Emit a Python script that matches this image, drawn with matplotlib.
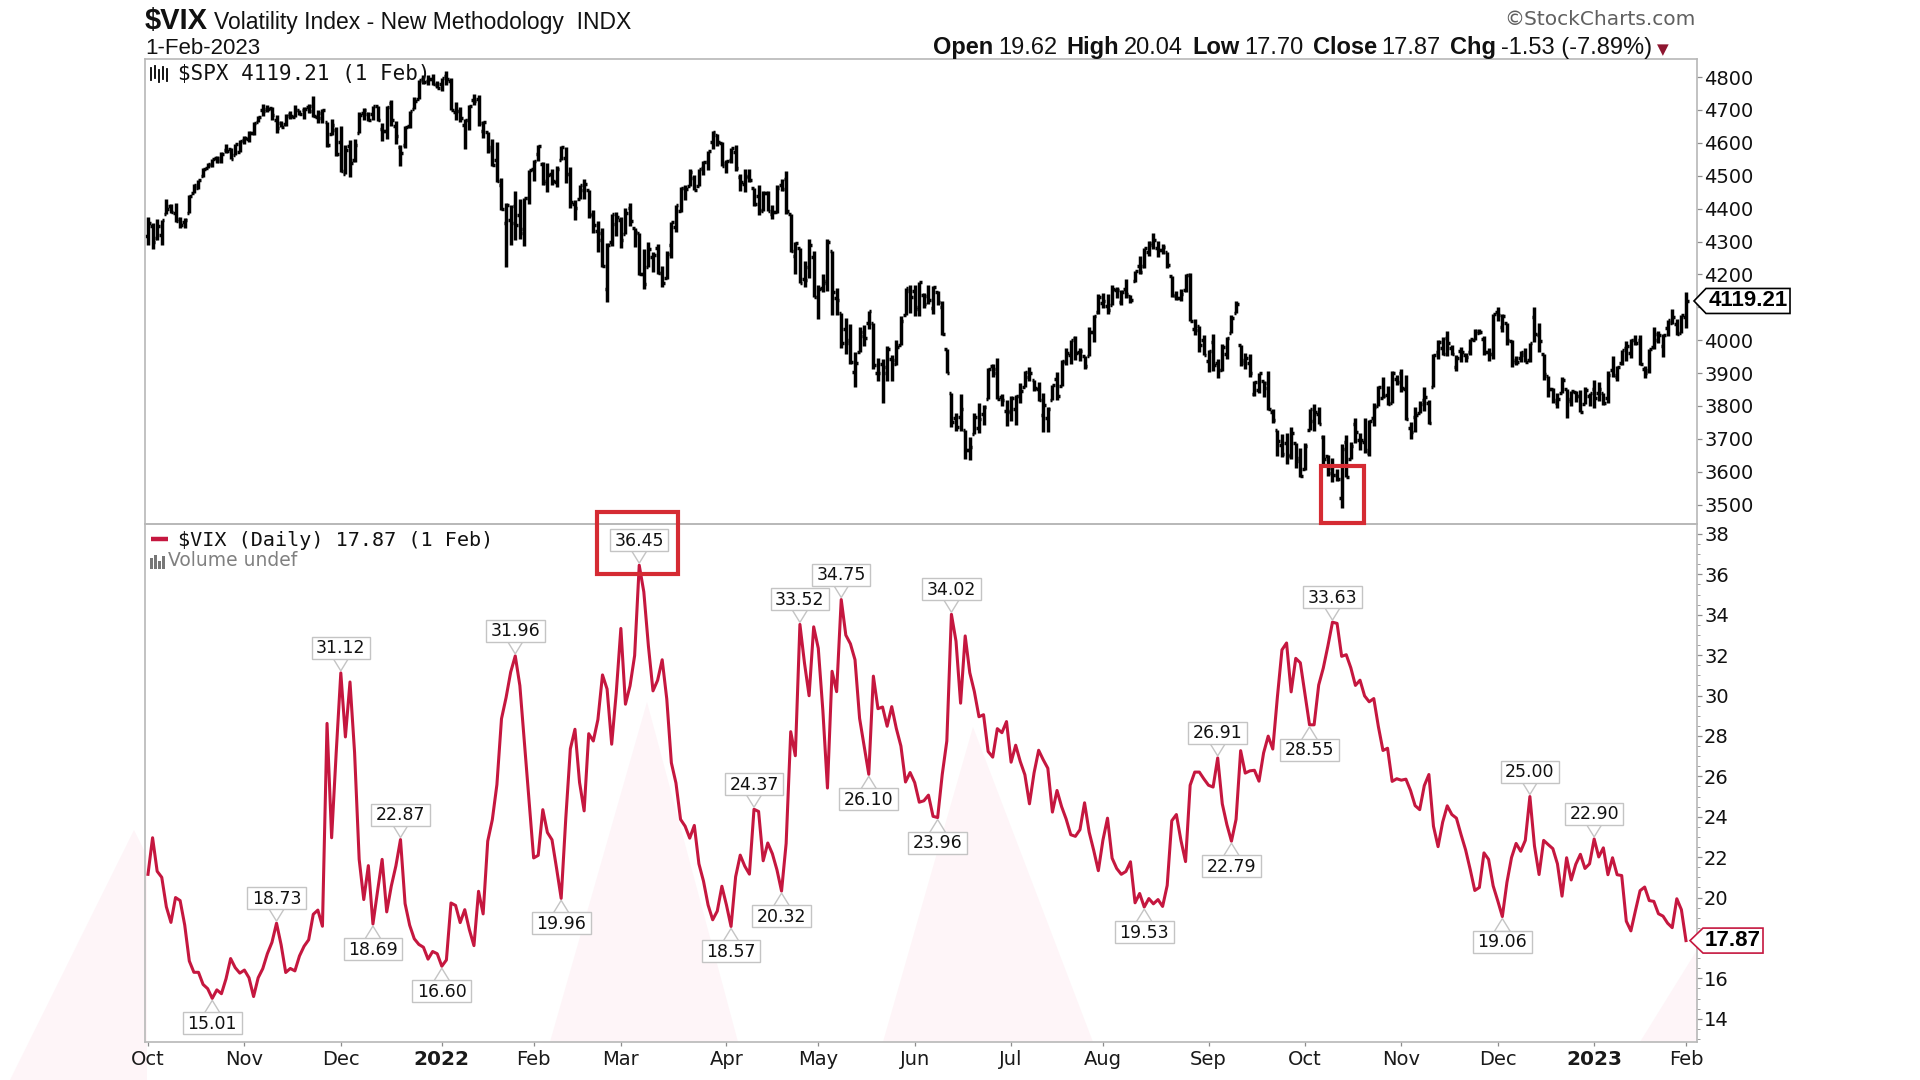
import matplotlib
matplotlib.use("Agg")
import matplotlib.pyplot as plt
import numpy as np
import pandas as pd
from matplotlib.collections import LineCollection
from matplotlib.patches import Polygon, Rectangle
from matplotlib.transforms import IdentityTransform
from matplotlib.ticker import FixedLocator, MultipleLocator

# ---------------- data ----------------
holidays = ['2021-11-25', '2021-12-24', '2022-01-17', '2022-02-21', '2022-04-15',
            '2022-05-30', '2022-06-20', '2022-07-04', '2022-09-05', '2022-11-24',
            '2022-12-26', '2023-01-02', '2023-01-16']
dates = pd.bdate_range('2021-10-01', '2023-02-01', freq='C', holidays=holidays)

vix = [
    # Oct 2021
    21.15, 22.96, 21.30, 21.00, 19.54, 18.77, 20.00, 19.85, 18.64, 16.86, 16.30, 16.30, 15.70, 15.49, 15.01, 15.43, 15.24, 15.98, 16.98, 16.53, 16.26,
    # Nov 2021
    16.41, 16.03, 15.10, 16.03, 16.48, 17.22, 17.78, 18.73, 17.66, 16.29, 16.49, 16.37, 17.11, 17.59, 17.91, 19.17, 19.38, 18.58, 28.62, 22.96, 27.19,
    # Dec 2021
    31.12, 27.95, 30.67, 27.18, 21.89, 19.90, 21.58, 18.69, 20.31, 21.89, 19.29, 20.57, 21.57, 22.87, 19.70, 18.63, 17.96, 17.68, 17.54, 16.95, 17.33, 17.22,
    # Jan 2022
    16.60, 16.91, 19.73, 19.61, 18.76, 19.40, 18.41, 17.62, 20.31, 19.19, 22.79, 23.85, 25.59, 28.85, 29.90, 31.16, 31.96, 30.49, 27.66, 24.83,
    # Feb 2022
    21.96, 22.09, 24.35, 23.22, 22.86, 21.44, 19.96, 23.91, 27.36, 28.33, 25.70, 24.29, 28.11, 27.75, 28.81, 31.02, 30.32, 27.59, 30.15,
    # Mar 2022
    33.32, 29.57, 30.48, 31.98, 36.45, 35.13, 32.45, 30.23, 30.75, 31.77, 29.83, 26.67, 25.67, 23.87, 23.53, 22.94, 23.57, 21.67, 20.81, 19.63, 18.90, 19.33, 20.56,
    # Apr 2022
    19.63, 18.57, 21.03, 22.10, 21.55, 21.16, 24.37, 24.26, 21.82, 22.70, 22.17, 21.37, 20.32, 22.68, 28.21, 27.02, 33.52, 31.60, 29.99, 33.40,
    # May 2022
    32.34, 29.25, 25.42, 31.20, 30.19, 34.75, 32.99, 32.56, 31.77, 28.87, 27.47, 26.10, 30.96, 29.35, 29.43, 28.48, 29.45, 28.37, 27.50, 25.72, 26.19,
    # Jun 2022
    25.69, 24.72, 24.79, 25.07, 24.02, 23.96, 26.09, 27.75, 34.02, 32.69, 29.62, 32.95, 31.13, 30.19, 28.95, 29.05, 27.23, 26.95, 28.36, 28.16, 28.71,
    # Jul 2022
    26.70, 27.54, 26.73, 26.08, 24.64, 26.17, 27.29, 26.82, 26.40, 24.23, 25.30, 24.50, 23.88, 23.11, 23.03, 23.36, 24.69, 23.24, 22.33, 21.33,
    # Aug 2022
    22.84, 23.93, 21.95, 21.44, 21.15, 21.29, 21.77, 19.74, 20.20, 19.53, 19.95, 19.69, 19.90, 19.56, 20.60, 23.80, 24.11, 22.82, 21.78, 25.56, 26.21, 26.21, 25.87,
    # Sep 2022
    25.56, 25.47, 26.91, 24.64, 23.61, 22.79, 23.87, 27.27, 26.16, 26.27, 26.30, 25.76, 27.16, 27.99, 27.35, 29.92, 32.26, 32.60, 30.18, 31.84, 31.62,
    # Oct 2022
    30.10, 28.55, 28.55, 30.52, 31.36, 32.45, 33.63, 33.57, 31.94, 32.02, 31.37, 30.50, 30.76, 29.98, 29.69, 29.85, 28.46, 27.28, 27.39, 25.75, 25.88,
    # Nov 2022
    25.81, 25.86, 25.30, 24.55, 24.35, 25.54, 26.09, 23.53, 22.52, 23.73, 24.54, 24.11, 23.93, 23.12, 22.36, 21.39, 20.35, 20.50, 22.21, 21.89, 20.58,
    # Dec 2022
    19.84, 19.06, 20.75, 21.98, 22.68, 22.29, 22.83, 25.00, 22.55, 21.14, 22.83, 22.62, 22.42, 21.67, 20.07, 21.97, 20.87, 21.65, 22.14, 21.44, 21.67,
    # Jan 2023
    22.90, 22.01, 22.46, 21.13, 21.97, 21.13, 21.09, 18.83, 18.35, 19.36, 20.34, 20.52, 19.85, 19.81, 19.20, 19.08, 18.73, 18.51, 19.94, 19.40,
    # Feb 2023
    17.87,
]

spx_open = [
    4317, 4348, 4310, 4320, 4384, 4407, 4386, 4368, 4359, 4386, 4447, 4464, 4498, 4524, 4532, 4553, 4554, 4579, 4580, 4562, 4573,
    4610, 4613, 4630, 4662, 4700, 4702, 4707, 4670, 4660, 4656, 4689, 4680, 4701, 4700, 4708, 4713, 4679, 4675, 4664, 4628, 4640,
    4602, 4504, 4589, 4548, 4631, 4690, 4688, 4688, 4711, 4642, 4637, 4720, 4652, 4588, 4594, 4650, 4703, 4733, 4795, 4788, 4795, 4776,
    4778, 4804, 4788, 4694, 4698, 4655, 4670, 4729, 4733, 4637, 4633, 4588, 4548, 4472, 4357, 4366, 4409, 4380, 4337, 4431,
    4520, 4566, 4535, 4483, 4505, 4480, 4547, 4554, 4506, 4413, 4430, 4456, 4456, 4385, 4332, 4325, 4155, 4298, 4354,
    4364, 4323, 4401, 4342, 4327, 4202, 4223, 4253, 4280, 4203, 4188, 4288, 4345, 4392, 4462, 4469, 4493, 4470, 4523, 4541, 4603, 4624, 4600,
    4540, 4548, 4573, 4495, 4474, 4495, 4463, 4437, 4394, 4449, 4385, 4390, 4473, 4490, 4385, 4255, 4279, 4187, 4222, 4254,
    4131, 4159, 4181, 4271, 4129, 4082, 4035, 3990, 3904, 3963, 4013, 4053, 4051, 3900, 3928, 3919, 3943, 3929, 3985, 4077, 4151,
    4149, 4096, 4137, 4134, 4097, 4148, 4101, 3974, 3838, 3763, 3765, 3728, 3665, 3715, 3733, 3775, 3821, 3920, 3913, 3826, 3786,
    3781, 3792, 3831, 3859, 3888, 3880, 3851, 3771, 3764, 3818, 3883, 3861, 3935, 3955, 4007, 3965, 3953, 3951, 4026, 4087,
    4113, 4105, 4107, 4154, 4115, 4155, 4133, 4181, 4227, 4225, 4269, 4290, 4280, 4273, 4267, 4195, 4134, 4127, 4154, 4199, 4034, 4042, 4000,
    3936, 3994, 3930, 3910, 3959, 4022, 4083, 3986, 3940, 3932, 3837, 3849, 3876, 3871, 3782, 3727, 3682, 3687, 3651, 3687, 3633,
    3609, 3726, 3754, 3777, 3706, 3647, 3595, 3590, 3520, 3691, 3638, 3746, 3696, 3689, 3657, 3762, 3799, 3825, 3834, 3808, 3882,
    3901, 3853, 3734, 3767, 3780, 3817, 3810, 3859, 3964, 3977, 4006, 3976, 3919, 3967, 3956, 3965, 4001, 4023, 4005, 3964, 3958,
    4087, 4041, 4053, 3996, 3933, 3947, 3954, 3940, 4069, 4016, 3958, 3890, 3853, 3810, 3839, 3853, 3816, 3843, 3829, 3805, 3830,
    3853, 3840, 3840, 3823, 3910, 3889, 3932, 3977, 3960, 3999, 4002, 3911, 3910, 3978, 4002, 3982, 4036, 4053, 4050, 4021,
    4071,
]

spx_high = [
    4375, 4355, 4369, 4365, 4429, 4413, 4416, 4375, 4372, 4440, 4476, 4488, 4523, 4540, 4552, 4560, 4572, 4598, 4585, 4598, 4608,
    4621, 4636, 4664, 4683, 4719, 4714, 4708, 4685, 4665, 4688, 4697, 4714, 4701, 4708, 4718, 4744, 4701, 4702, 4664, 4672, 4647,
    4652, 4595, 4608, 4612, 4694, 4705, 4695, 4713, 4711, 4660, 4712, 4731, 4666, 4592, 4651, 4698, 4740, 4791, 4807, 4805, 4808, 4787,
    4797, 4819, 4797, 4725, 4708, 4673, 4715, 4749, 4745, 4665, 4633, 4612, 4602, 4494, 4418, 4411, 4453, 4428, 4432, 4517,
    4547, 4595, 4542, 4540, 4522, 4531, 4590, 4588, 4527, 4427, 4472, 4490, 4456, 4395, 4362, 4340, 4294, 4385, 4389,
    4375, 4401, 4416, 4342, 4327, 4277, 4300, 4269, 4292, 4227, 4272, 4358, 4412, 4465, 4471, 4522, 4501, 4520, 4546, 4575, 4637, 4627, 4603,
    4549, 4583, 4593, 4504, 4521, 4521, 4464, 4471, 4453, 4453, 4411, 4471, 4489, 4513, 4385, 4300, 4279, 4240, 4308, 4270,
    4169, 4200, 4308, 4271, 4158, 4082, 4068, 4050, 3964, 4039, 4046, 4090, 4051, 3946, 3944, 3982, 3955, 3999, 4075, 4158, 4169,
    4167, 4177, 4143, 4168, 4164, 4150, 4120, 3974, 3838, 3778, 3837, 3728, 3707, 3779, 3809, 3802, 3914, 3928, 3946, 3837, 3818,
    3829, 3832, 3871, 3906, 3918, 3880, 3874, 3839, 3797, 3863, 3903, 3939, 3975, 3999, 4013, 3976, 3953, 4040, 4078, 4140,
    4144, 4140, 4167, 4162, 4152, 4187, 4137, 4211, 4257, 4280, 4301, 4325, 4302, 4292, 4267, 4195, 4149, 4156, 4200, 4203, 4063, 4044, 4015,
    3970, 4018, 3942, 3987, 4010, 4076, 4120, 3986, 3962, 3959, 3875, 3900, 3876, 3907, 3790, 3727, 3716, 3717, 3736, 3687, 3672,
    3688, 3791, 3806, 3798, 3712, 3652, 3641, 3608, 3685, 3712, 3689, 3762, 3718, 3762, 3757, 3810, 3862, 3887, 3860, 3905, 3893,
    3911, 3894, 3750, 3797, 3814, 3859, 3818, 3958, 4002, 4009, 4028, 3984, 3955, 3979, 3962, 4004, 4034, 4035, 4012, 3976, 4080,
    4101, 4080, 4053, 4001, 3951, 3966, 3977, 3991, 4101, 4053, 3958, 3890, 3855, 3839, 3889, 3853, 3846, 3846, 3849, 3858, 3840,
    3879, 3873, 3840, 3906, 3951, 3920, 3970, 3997, 4003, 4015, 4015, 3922, 3973, 4039, 4027, 4019, 4061, 4095, 4063, 4077,
    4148,
]

spx_low = [
    4288, 4278, 4305, 4290, 4384, 4386, 4360, 4342, 4342, 4386, 4447, 4461, 4497, 4524, 4527, 4539, 4538, 4570, 4551, 4562, 4571,
    4596, 4604, 4623, 4662, 4681, 4694, 4671, 4630, 4648, 4651, 4672, 4679, 4684, 4672, 4692, 4680, 4660, 4659, 4586, 4625, 4560,
    4510, 4504, 4496, 4541, 4631, 4670, 4665, 4671, 4666, 4607, 4612, 4651, 4598, 4531, 4583, 4645, 4703, 4733, 4780, 4775, 4775, 4766,
    4758, 4775, 4700, 4671, 4663, 4582, 4638, 4716, 4651, 4614, 4568, 4531, 4482, 4396, 4223, 4288, 4305, 4309, 4287, 4414,
    4483, 4544, 4471, 4452, 4471, 4465, 4547, 4477, 4402, 4364, 4430, 4430, 4373, 4327, 4267, 4222, 4115, 4287, 4318,
    4279, 4323, 4346, 4284, 4199, 4157, 4223, 4206, 4202, 4161, 4187, 4251, 4330, 4390, 4425, 4469, 4456, 4469, 4501, 4517, 4582, 4589, 4530,
    4507, 4539, 4514, 4453, 4451, 4480, 4408, 4381, 4392, 4392, 4368, 4387, 4455, 4384, 4267, 4201, 4175, 4162, 4188, 4131,
    4063, 4147, 4151, 4077, 4077, 3975, 3959, 3929, 3859, 3963, 3983, 4033, 3912, 3876, 3810, 3876, 3875, 3925, 3985, 4077, 4084,
    4074, 4074, 4097, 4109, 4080, 4107, 4017, 3900, 3735, 3725, 3723, 3640, 3637, 3715, 3717, 3743, 3821, 3889, 3820, 3800, 3738,
    3753, 3743, 3810, 3859, 3875, 3846, 3815, 3722, 3721, 3818, 3817, 3861, 3923, 3927, 3939, 3936, 3911, 3951, 3993, 4080,
    4097, 4079, 4107, 4128, 4107, 4128, 4112, 4178, 4201, 4219, 4256, 4278, 4253, 4262, 4218, 4130, 4123, 4119, 4147, 4057, 4017, 3965, 3954,
    3903, 3907, 3886, 3907, 3944, 4022, 4083, 3922, 3913, 3888, 3830, 3838, 3827, 3789, 3749, 3648, 3645, 3623, 3640, 3610, 3584,
    3604, 3726, 3723, 3745, 3624, 3588, 3569, 3571, 3491, 3583, 3638, 3686, 3666, 3657, 3647, 3740, 3799, 3824, 3803, 3808, 3863,
    3843, 3758, 3699, 3722, 3778, 3786, 3745, 3859, 3944, 3956, 3953, 3954, 3906, 3935, 3933, 3956, 3999, 4020, 3956, 3937, 3943,
    4057, 4026, 3984, 3918, 3923, 3933, 3933, 3935, 3994, 3965, 3879, 3828, 3809, 3795, 3839, 3764, 3800, 3813, 3783, 3805, 3800,
    3795, 3815, 3802, 3809, 3888, 3877, 3925, 3937, 3947, 3984, 3925, 3886, 3900, 3972, 3990, 3950, 4013, 4048, 4015, 4021,
    4037,
]

spx_close = [
    4357, 4300, 4346, 4364, 4400, 4391, 4361, 4351, 4364, 4438, 4471, 4487, 4520, 4536, 4550, 4545, 4567, 4575, 4552, 4596, 4605,
    4614, 4631, 4660, 4680, 4697, 4702, 4685, 4646, 4649, 4683, 4683, 4701, 4689, 4704, 4698, 4682, 4691, 4701, 4595, 4655, 4567,
    4513, 4577, 4538, 4592, 4686, 4701, 4668, 4712, 4669, 4635, 4710, 4669, 4621, 4568, 4649, 4697, 4726, 4791, 4786, 4793, 4778, 4766,
    4797, 4794, 4701, 4696, 4677, 4670, 4713, 4726, 4659, 4663, 4577, 4533, 4483, 4398, 4410, 4357, 4350, 4327, 4432, 4516,
    4546, 4589, 4477, 4501, 4484, 4521, 4587, 4504, 4419, 4401, 4472, 4475, 4380, 4349, 4305, 4226, 4288, 4385, 4374,
    4306, 4387, 4363, 4329, 4201, 4171, 4278, 4260, 4204, 4173, 4262, 4358, 4412, 4463, 4461, 4512, 4456, 4520, 4543, 4575, 4632, 4602, 4530,
    4546, 4583, 4525, 4481, 4500, 4488, 4413, 4397, 4447, 4392, 4391, 4463, 4459, 4393, 4272, 4296, 4175, 4183, 4288, 4132,
    4155, 4175, 4300, 4147, 4123, 3991, 4001, 3935, 3930, 4024, 4008, 4088, 3923, 3901, 3901, 3974, 3941, 3979, 4058, 4158, 4132,
    4101, 4176, 4109, 4121, 4161, 4116, 4018, 3901, 3750, 3735, 3790, 3667, 3675, 3765, 3760, 3796, 3912, 3900, 3821, 3819, 3785,
    3825, 3831, 3845, 3903, 3899, 3855, 3819, 3802, 3790, 3863, 3831, 3937, 3960, 3999, 3962, 3967, 3921, 4024, 4073, 4130,
    4119, 4091, 4155, 4152, 4145, 4140, 4122, 4210, 4208, 4280, 4297, 4305, 4275, 4284, 4228, 4138, 4128, 4141, 4199, 4058, 4030, 3986, 3955,
    3967, 3924, 3909, 3980, 4006, 4067, 4110, 3932, 3946, 3901, 3873, 3900, 3856, 3790, 3758, 3693, 3655, 3647, 3719, 3641, 3586,
    3678, 3791, 3783, 3745, 3640, 3612, 3589, 3577, 3670, 3583, 3678, 3720, 3695, 3666, 3753, 3797, 3859, 3831, 3807, 3901, 3872,
    3856, 3760, 3720, 3771, 3807, 3828, 3749, 3956, 3993, 3957, 3992, 3959, 3947, 3965, 3950, 4003, 4027, 4026, 3964, 3958, 4080,
    4076, 4072, 3999, 3941, 3934, 3963, 3934, 3991, 4019, 3996, 3896, 3852, 3818, 3821, 3878, 3822, 3845, 3829, 3783, 3849, 3840,
    3824, 3853, 3808, 3895, 3893, 3919, 3970, 3983, 3999, 3991, 3929, 3899, 3972, 4020, 4017, 4016, 4060, 4071, 4018, 4077,
    4119.21,
]

# peak / trough annotations
label_dates = ['2021-10-21', '2021-11-10', '2021-12-01', '2021-12-10', '2021-12-20', '2022-01-03',
               '2022-01-26', '2022-02-09', '2022-03-07', '2022-04-04', '2022-04-11', '2022-04-20',
               '2022-04-26', '2022-05-09', '2022-05-17', '2022-06-08', '2022-06-13', '2022-08-12',
               '2022-09-06', '2022-09-09', '2022-10-04', '2022-10-11', '2022-12-02', '2022-12-12',
               '2023-01-03']
label_side = ['below', 'above', 'above', 'below', 'above', 'below',
              'above', 'below', 'above', 'below', 'above', 'below',
              'above', 'above', 'below', 'below', 'above', 'below',
              'above', 'below', 'below', 'above', 'below', 'above',
              'above']

spx_ticks = [3500, 3600, 3700, 3800, 3900, 4000, 4100, 4200, 4300, 4400, 4500, 4600, 4700, 4800]
spx_ticklabels = ['3500', '3600', '3700', '3800', '3900', '4000', '', '4200', '4300', '4400', '4500', '4600', '4700', '4800']
vix_ticks = [14, 16, 18, 20, 22, 24, 26, 28, 30, 32, 34, 36, 38]
vix_ticklabels = ['14', '16', '', '20', '22', '24', '26', '28', '30', '32', '34', '36', '38']

hdr_labels = ['Open', 'High', 'Low', 'Close', 'Chg']
hdr_values = ['19.62', '20.04', '17.70', '17.87', '-1.53 (-7.89%)']

n = len(dates)
for nm, arr in [('vix', vix), ('spx_open', spx_open), ('spx_high', spx_high),
                ('spx_low', spx_low), ('spx_close', spx_close)]:
    if len(arr) != n:
        raise ValueError(f'{nm} has {len(arr)} values, dates {n}')

idx_of = {d.strftime('%Y-%m-%d'): i for i, d in enumerate(dates)}

# ---------------- figure ----------------
W, H, DPI = 1920, 1080, 100
fig = plt.figure(figsize=(W / DPI, H / DPI), dpi=DPI)
fig.patch.set_facecolor('white')
ID = IdentityTransform()
renderer = fig.canvas.get_renderer()

RED = '#c5173f'
SPINE = '#b8b8b8'


def D(x, y):
    """top-left pixel -> display coords"""
    return (x, H - y)


# faint pink ghost shapes in the background
pink_polys = [
    [(10, 1080), (134, 830), (147, 856), (147, 1080)],
    [(550, 1042), (647, 702), (738, 1042)],
    [(883, 1042), (973, 727), (1093, 1042)],
    [(1640, 1042), (1697, 950), (1697, 1042)],
]
for poly in pink_polys:
    fig.add_artist(Polygon([D(*p) for p in poly], closed=True, transform=ID,
                           fc='#fef5f8', ec='none', zorder=0.5))

L, R, T1, B1, B2 = 145, 1697, 59, 524, 1042
ax1 = fig.add_axes([L / W, 1 - B1 / H, (R - L) / W, (B1 - T1) / H])
ax2 = fig.add_axes([L / W, 1 - B2 / H, (R - L) / W, (B2 - B1) / H])
for ax in (ax1, ax2):
    ax.set_facecolor('none')
    ax.set_zorder(1)
    for s in ax.spines.values():
        s.set_color(SPINE)
        s.set_linewidth(1.2)
    ax.set_xlim(-0.65, 337.4)
    ax.yaxis.tick_right()
    ax.tick_params(axis='y', which='major', direction='out', length=3.6, width=0.9,
                   color='#8c8c8c', labelsize=14, pad=1.5, labelcolor='#111111')

ax1.set_ylim(3441, 4855)
ax2.set_ylim(12.85, 38.49)

# SPX OHLC bars
xi = np.arange(n)
segs = []
for i in range(n):
    segs.append([(i, spx_low[i]), (i, spx_high[i])])
    segs.append([(i - 0.55, spx_open[i]), (i, spx_open[i])])
    segs.append([(i, spx_close[i]), (i + 0.55, spx_close[i])])
ax1.add_collection(LineCollection(segs, colors='black', linewidths=2.5, capstyle='butt'))

ax1.yaxis.set_major_locator(FixedLocator(spx_ticks))
ax1.set_yticklabels(spx_ticklabels)
ax1.tick_params(axis='x', which='both', bottom=False, labelbottom=False)

# VIX line
ax2.plot(xi, vix, color=RED, lw=2.2, solid_joinstyle='round', zorder=3)
ax2.yaxis.set_major_locator(FixedLocator(vix_ticks))
ax2.set_yticklabels(vix_ticklabels)
ax2.yaxis.set_minor_locator(MultipleLocator(0.5))
ax2.tick_params(axis='y', which='minor', direction='out', length=1.8, width=0.7, color='#a0a0a0')

month_starts = [i for i in range(n) if i == 0 or dates[i].month != dates[i - 1].month]
month_labels = [str(dates[i].year) if dates[i].month == 1 else dates[i].strftime('%b') for i in month_starts]
ax2.set_xticks(month_starts)
ax2.set_xticklabels(month_labels)
ax2.tick_params(axis='x', direction='out', length=3, width=0.9, color='#8c8c8c',
                labelsize=14, pad=3, labelcolor='#1a1a1a')
for t in ax2.get_xticklabels():
    if t.get_text().isdigit():
        t.set_fontweight('bold')
        t.set_fontsize(14.5)

# ---------------- VIX peak / trough callouts ----------------
BOX_H = 22
for d, side in zip(label_dates, label_side):
    i = idx_of[d]
    v = vix[i]
    xd, yd = ax2.transData.transform((i, v))
    if side == 'above':
        poly = [(xd - 8, yd + 15), (xd, yd + 2), (xd + 8, yd + 15)]
        ty = yd + 14 + BOX_H / 2
    else:
        poly = [(xd - 8, yd - 15), (xd, yd - 2), (xd + 8, yd - 15)]
        ty = yd - 14 - BOX_H / 2
    fig.add_artist(Polygon(poly, closed=True, transform=ID, fc='white', ec='#c4c4c4',
                           lw=1.0, zorder=5))
    t = fig.text(xd, ty - 0.5, f'{v:.2f}', transform=ID, ha='center', va='center', fontsize=12.5,
                 family='DejaVu Sans', color='#111111', zorder=7)
    tw = t.get_window_extent(renderer).width
    bw = tw + 9
    fig.add_artist(Rectangle((xd - bw / 2, ty - BOX_H / 2), bw, BOX_H, transform=ID,
                             fc='white', ec='#c4c4c4', lw=1.0, zorder=6))

# ---------------- right-edge value tags ----------------
xa = ax1.transAxes.transform((1, 0))[0]
_, y_spx = ax1.transData.transform((n - 1, spx_close[-1]))
tag = [(xa - 3, y_spx), (xa + 9, y_spx + 12.5), (xa + 93, y_spx + 12.5),
       (xa + 93, y_spx - 12.5), (xa + 9, y_spx - 12.5)]
fig.add_artist(Polygon(tag, closed=True, transform=ID, fc='white', ec='black', lw=1.2, zorder=5))
fig.text(xa + 51, y_spx, f'{spx_close[-1]:.2f}', transform=ID, ha='center', va='center',
         fontsize=16, fontweight='bold', family='Liberation Sans', color='black', zorder=6)

_, y_vix = ax2.transData.transform((n - 1, vix[-1]))
tag = [(xa - 7, y_vix), (xa + 6, y_vix + 12.5), (xa + 66, y_vix + 12.5),
       (xa + 66, y_vix - 12.5), (xa + 6, y_vix - 12.5)]
fig.add_artist(Polygon(tag, closed=True, transform=ID, fc='white', ec=RED, lw=1.2, zorder=5))
fig.text(xa + 36, y_vix, f'{vix[-1]:.2f}', transform=ID, ha='center', va='center',
         fontsize=16, fontweight='bold', family='Liberation Sans', color='black', zorder=6)

# ---------------- red highlight rectangles ----------------
i36 = idx_of['2022-03-07']
x36, y36 = ax2.transData.transform((i36, vix[i36]))
fig.add_artist(Rectangle((x36 - 42, y36 - 8.5), 81, 62, transform=ID, fill=False,
                         ec='#d52b33', lw=3.0, zorder=8))
ilo = idx_of['2022-10-13']
xlo, ylo = ax1.transData.transform((ilo, spx_low[ilo]))
fig.add_artist(Rectangle((xlo - 21, ylo - 15.5), 43, 57, transform=ID, fill=False,
                         ec='#d52b33', lw=3.0, zorder=8))

# ---------------- panel legends ----------------
for bx, lo, hi in [(151, 80, 68), (155, 78, 66), (159, 82, 70), (163, 79, 67), (167, 81, 69)]:
    fig.add_artist(plt.Line2D([bx, bx], [H - lo, H - hi], transform=ID, color='black', lw=1.3, zorder=6))
fig.text(178, H - 74, f'$SPX {spx_close[-1]:.2f} (1 Feb)', transform=ID, ha='left', va='center',
         fontsize=15, family='DejaVu Sans Mono', color='#111111', parse_math=False, zorder=6)

fig.add_artist(plt.Line2D([151, 168], [H - 539, H - 539], transform=ID, color=RED, lw=3.2,
                          solid_capstyle='butt', zorder=6))
fig.text(178, H - 540, f'$VIX (Daily) {vix[-1]:.2f} (1 Feb)', transform=ID, ha='left', va='center',
         fontsize=14.5, family='DejaVu Sans Mono', color='#111111', parse_math=False, zorder=6)
for bx, top in [(151, 558), (155, 555), (159, 561), (163, 556)]:
    fig.add_artist(Rectangle((bx - 1.5, H - 569), 3, 569 - top, transform=ID, fc='#777777',
                             ec='none', zorder=6))
fig.text(168, H - 561, 'Volume undef', transform=ID, ha='left', va='center', fontsize=13.5,
         family='DejaVu Sans', color='#808080', zorder=6)

# ---------------- header ----------------
fig.text(145, H - 29, '$VIX', transform=ID, ha='left', va='baseline', fontsize=21,
         fontweight='bold', family='Liberation Sans', color='#111111', parse_math=False)
fig.text(214, H - 28.5, 'Volatility Index - New Methodology  INDX', transform=ID, ha='left',
         va='baseline', fontsize=16.5, family='Liberation Sans', color='#111111')
fig.text(145, H - 54, dates[-1].strftime('%-d-%b-%Y'), transform=ID, ha='left', va='baseline',
         fontsize=16, family='Liberation Sans', color='#111111')
fig.text(1696, H - 25, '\u00a9StockCharts.com', transform=ID, ha='right', va='baseline',
         fontsize=14.5, family='DejaVu Sans', color='#606060')

x = 933
for lab, val in zip(hdr_labels, hdr_values):
    t = fig.text(x, H - 54, lab, transform=ID, ha='left', va='baseline', fontsize=17,
                 fontweight='bold', family='Liberation Sans', color='#111111')
    x += t.get_window_extent(renderer).width + 5
    t = fig.text(x, H - 54, val, transform=ID, ha='left', va='baseline', fontsize=17,
                 family='Liberation Sans', color='#111111')
    x += t.get_window_extent(renderer).width + 9
fig.text(x - 4, H - 54, '\u25bc', transform=ID, ha='left', va='baseline', fontsize=11,
         family='DejaVu Sans', color='#8e1630')

fig.savefig('out.png', dpi=DPI, facecolor='white')
